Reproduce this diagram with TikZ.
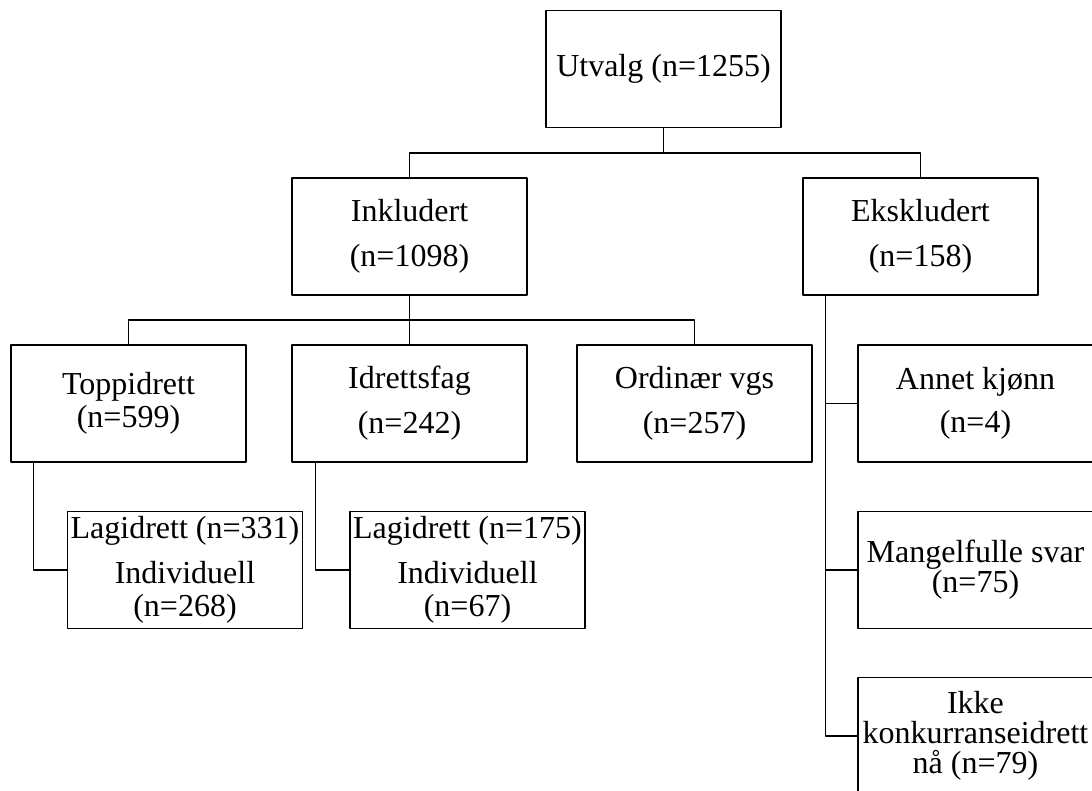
\documentclass[tikz,border=0pt]{standalone}
\usepackage{fontspec}
\setmainfont{Liberation Serif}
\begin{document}
\begin{tikzpicture}[x=1pt,y=-1pt,line join=round,font=\fontsize{32}{33}\selectfont,
		box/.style={draw,line width=1.8pt,minimum width=235pt,minimum height=117pt,inner sep=1pt,align=center},
		link/.style={line width=1.1pt}]
				\useasboundingbox (0,0) rectangle (1092,791);
				\clip (0,0) rectangle (1092,791);
				\node[box] (utvalg) at (663.5,69) {Utvalg (n=1255)};
				\node[box] (inkl) at (409.5,236.5) {Inkludert\\[12pt](n=1098)};
				\node[box] (eksk) at (920.5,236.5) {Ekskludert\\[12pt](n=158)};
				\node[box] (topp) at (128.5,403.5) {Toppidrett\\(n=599)};
				\node[box] (idr) at (409.5,403.5) {Idrettsfag\\[12pt](n=242)};
				\node[box] (ord) at (694.5,403.5) {Ordinær vgs\\[12pt](n=257)};
				\node[box] (lag1) at (185,570) {Lagidrett (n=331)\\[12pt]Individuell\\(n=268)};
				\node[box] (lag2) at (467.5,570) {Lagidrett (n=175)\\[12pt]Individuell\\(n=67)};
				\node[box] (annet) at (975.5,403.5) {Annet kjønn\\[10pt](n=4)};
				\node[box] (mang) at (975.5,570) {Mangelfulle svar\\[-3pt](n=75)};
				\node[box] (ikke) at (975.5,736) {Ikke\\[-3pt]konkurranseidrett\\[-3pt]nå (n=79)};
				\coordinate (j1) at (663.5,153);
				\coordinate (j2) at (409.5,320);
				\draw[link] (utvalg.south) -- (j1);
				\draw[link] (inkl.north) |- (j1) -| (eksk.north);
				\draw[link] (inkl.south) -- (idr.north);
				\draw[link] (topp.north) |- (j2) -| (ord.north);
				\draw[link] ([xshift=23pt]topp.south west) |- (lag1.west);
				\draw[link] ([xshift=24pt]idr.south west) |- (lag2.west);
				\coordinate (spine) at ([xshift=23pt]eksk.south west);
				\draw[link] (spine) |- (ikke.west);
				\foreach \n in {annet,mang}{
					\draw[link] (\n.west) -- (\n.west -| spine);
				}
			\end{tikzpicture}
\end{document}
